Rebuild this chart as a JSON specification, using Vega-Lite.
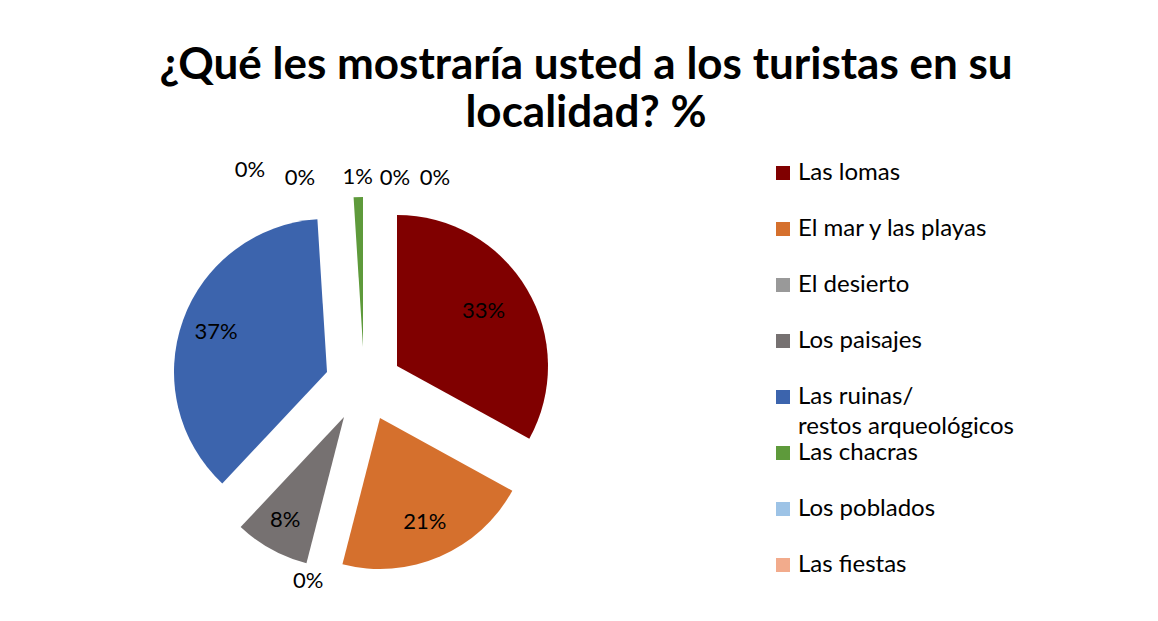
{
  "$schema": "https://vega.github.io/schema/vega-lite/v6.json",
  "width": 724,
  "height": 444,
  "autosize": {"type": "none"},
  "padding": {"left": 0, "top": 150, "right": 434, "bottom": 27},
  "background": "white",
  "title": {
    "text": ["¿Qué les mostraría usted a los turistas en su", "localidad? %"],
    "font": "Lato",
    "fontSize": 44,
    "fontWeight": "bold",
    "color": "#000000",
    "anchor": "middle",
    "dx": 224,
    "dy": 44,
    "baseline": "bottom",
    "offset": 14,
    "lineHeight": 48
  },
  "config": {
    "view": {"stroke": null},
    "style": {"guide-label": {"lineHeight": 30}},
    "text": {"font": "Lato", "fontSize": 22, "color": "#000000"}
  },
  "data": {
    "values": [
      {"order": 1, "category": "Las lomas", "share": 0.33},
      {"order": 2, "category": "El mar y las playas", "share": 0.21},
      {"order": 3, "category": "El desierto", "share": 0.0},
      {"order": 4, "category": "Los paisajes", "share": 0.08},
      {"order": 5, "category": "Las ruinas/ restos arqueológicos", "share": 0.37},
      {"order": 6, "category": "Las chacras", "share": 0.01},
      {"order": 7, "category": "Los poblados", "share": 0.0},
      {"order": 8, "category": "Las fiestas", "share": 0.0},
      {"order": 9, "category": "Otros", "share": 0.0},
      {"order": 10, "category": "No precisa", "share": 0.0}
    ]
  },
  "transform": [
    {"stack": "share", "groupby": [], "sort": [{"field": "order", "order": "ascending"}], "as": ["s0", "s1"]},
    {"calculate": "(datum.s0 + datum.s1) / 2", "as": "smid"}
  ],
  "layer": [
    {
      "transform": [{"filter": "datum.category == 'Las lomas'"}],
      "mark": {"type": "arc", "radius": 151, "xOffset": 35, "yOffset": -6},
      "encoding": {
        "theta": {"field": "s0", "type": "quantitative", "scale": {"domain": [0, 1], "zero": true, "nice": false}},
        "theta2": {"field": "s1"},
        "color": {
          "field": "category",
          "type": "nominal",
          "scale": {
            "domain": ["Las lomas", "El mar y las playas", "El desierto", "Los paisajes", "Las ruinas/ restos arqueológicos", "Las chacras", "Los poblados", "Las fiestas"],
            "range": ["#800000", "#D5702D", "#999999", "#767171", "#3C64AD", "#5E9A3B", "#9DC3E6", "#F2AB8C"]
          },
          "legend": {
            "title": null,
            "orient": "none",
            "legendX": 771,
            "legendY": 11,
            "symbolType": "square",
            "symbolSize": 196,
            "symbolStrokeWidth": 0,
            "labelFont": "Lato",
            "labelFontSize": 24,
            "labelColor": "#000000",
            "labelOffset": 3,
            "labelLimit": 400,
            "labelBaseline": "middle",
            "rowPadding": 2,
            "labelExpr": "datum.label == 'Las ruinas/ restos arqueológicos' ? ['Las ruinas/', 'restos arqueológicos'] : [datum.label, '']"
          }
        }
      }
    },
    {
      "transform": [{"filter": "datum.category == 'El mar y las playas'"}],
      "mark": {"type": "arc", "radius": 151, "xOffset": 18, "yOffset": 46},
      "encoding": {"theta": {"field": "s0", "type": "quantitative"}, "theta2": {"field": "s1"}, "color": {"field": "category", "type": "nominal"}}
    },
    {
      "transform": [{"filter": "datum.category == 'Los paisajes'"}],
      "mark": {"type": "arc", "radius": 151, "xOffset": -18, "yOffset": 45},
      "encoding": {"theta": {"field": "s0", "type": "quantitative"}, "theta2": {"field": "s1"}, "color": {"field": "category", "type": "nominal"}}
    },
    {
      "transform": [{"filter": "datum.category == 'Las ruinas/ restos arqueológicos'"}],
      "mark": {"type": "arc", "radius": 153, "xOffset": -35, "yOffset": 0},
      "encoding": {"theta": {"field": "s0", "type": "quantitative"}, "theta2": {"field": "s1"}, "color": {"field": "category", "type": "nominal"}}
    },
    {
      "transform": [{"filter": "datum.category == 'Las chacras'"}],
      "mark": {"type": "arc", "radius": 150, "xOffset": 1, "yOffset": -25},
      "encoding": {"theta": {"field": "s0", "type": "quantitative"}, "theta2": {"field": "s1"}, "color": {"field": "category", "type": "nominal"}}
    },
    {
      "transform": [{"filter": "datum.category == 'Las lomas'"}],
      "mark": {"type": "text", "radius": 104, "dx": 32, "dy": -8},
      "encoding": {"theta": {"field": "smid", "type": "quantitative"}, "text": {"field": "share", "format": ".0%"}}
    },
    {
      "transform": [{"filter": "datum.category == 'El mar y las playas'"}],
      "mark": {"type": "text", "radius": 113, "dx": 18, "dy": 46},
      "encoding": {"theta": {"field": "smid", "type": "quantitative"}, "text": {"field": "share", "format": ".0%"}}
    },
    {
      "transform": [{"filter": "datum.category == 'Los paisajes'"}],
      "mark": {"type": "text", "radius": 118, "dx": -20, "dy": 45},
      "encoding": {"theta": {"field": "smid", "type": "quantitative"}, "text": {"field": "share", "format": ".0%"}}
    },
    {
      "transform": [{"filter": "datum.category == 'Las ruinas/ restos arqueológicos'"}],
      "mark": {"type": "text", "radius": 118, "dx": -35, "dy": 0},
      "encoding": {"theta": {"field": "smid", "type": "quantitative"}, "text": {"field": "share", "format": ".0%"}}
    },
    {
      "transform": [{"filter": "datum.category == 'Las chacras'"}],
      "mark": {"type": "text", "radius": 170, "dx": 1, "dy": -25},
      "encoding": {"theta": {"field": "smid", "type": "quantitative"}, "text": {"field": "share", "format": ".0%"}}
    },
    {
      "transform": [{"filter": "datum.category == 'El desierto'"}],
      "mark": {"type": "text", "radius": 216},
      "encoding": {"theta": {"field": "smid", "type": "quantitative"}, "text": {"field": "share", "format": ".0%"}}
    },
    {
      "transform": [{"filter": "datum.category == 'Los poblados'"}],
      "mark": {"type": "text", "radius": 194, "dx": 33},
      "encoding": {"theta": {"field": "smid", "type": "quantitative"}, "text": {"field": "share", "format": ".0%"}}
    },
    {
      "transform": [{"filter": "datum.category == 'Las fiestas'"}],
      "mark": {"type": "text", "radius": 194, "dx": 73},
      "encoding": {"theta": {"field": "smid", "type": "quantitative"}, "text": {"field": "share", "format": ".0%"}}
    },
    {
      "transform": [{"filter": "datum.category == 'Otros'"}],
      "mark": {"type": "text", "radius": 194, "dx": -62},
      "encoding": {"theta": {"field": "smid", "type": "quantitative"}, "text": {"field": "share", "format": ".0%"}}
    },
    {
      "transform": [{"filter": "datum.category == 'No precisa'"}],
      "mark": {"type": "text", "radius": 202, "dx": -112},
      "encoding": {"theta": {"field": "smid", "type": "quantitative"}, "text": {"field": "share", "format": ".0%"}}
    }
  ]
}
